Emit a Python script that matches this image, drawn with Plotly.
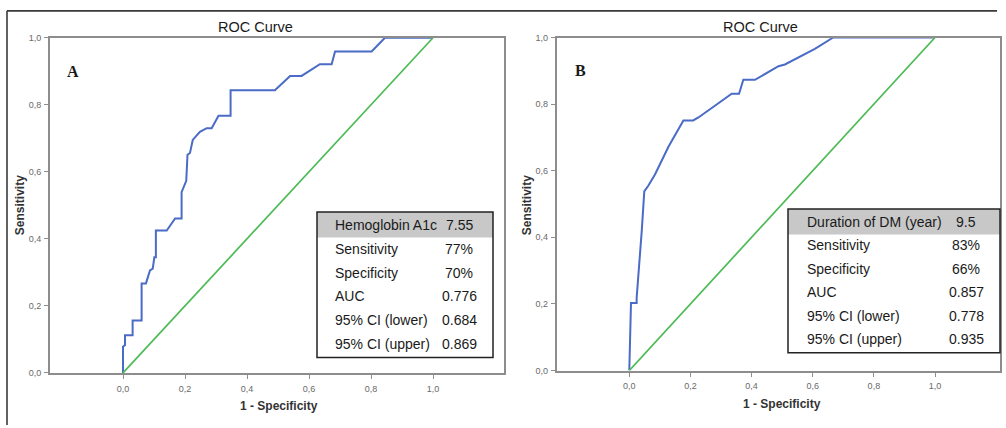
import plotly.graph_objects as go

W, H = 1006, 428

# ---------------- data ----------------
a_fpr = [0, 0, 0.0065, 0.0065, 0.031, 0.031, 0.060, 0.060, 0.074, 0.087, 0.096, 0.101, 0.106, 0.106,
         0.141, 0.168, 0.189, 0.189, 0.204, 0.208, 0.216, 0.225, 0.248, 0.270, 0.286, 0.308, 0.340,
         0.347, 0.347, 0.490, 0.539, 0.576, 0.635, 0.673, 0.684, 0.802, 0.845, 1.0]
a_tpr = [0, 0.078, 0.083, 0.112, 0.112, 0.156, 0.156, 0.267, 0.267, 0.306, 0.311, 0.345, 0.345, 0.425,
         0.425, 0.461, 0.461, 0.539, 0.573, 0.651, 0.656, 0.695, 0.719, 0.730, 0.730, 0.767, 0.767,
         0.767, 0.843, 0.843, 0.886, 0.886, 0.921, 0.921, 0.959, 0.959, 1.0, 1.0]

b_fpr = [0, 0.001, 0.0055, 0.024, 0.024, 0.041, 0.049, 0.062, 0.084, 0.128, 0.177, 0.209, 0.226,
         0.280, 0.335, 0.359, 0.373, 0.411, 0.488, 0.509, 0.607, 0.667, 1.0]
b_tpr = [0, 0.032, 0.203, 0.203, 0.218, 0.423, 0.538, 0.555, 0.589, 0.672, 0.751, 0.751, 0.760,
         0.795, 0.831, 0.831, 0.873, 0.873, 0.914, 0.919, 0.966, 1.0, 1.0]

ref_line = [0, 1]

tick_vals = [0, 0.2, 0.4, 0.6, 0.8, 1.0]
tick_text = ["0,0", "0,2", "0,4", "0,6", "0,8", "1,0"]

table_a_labels = ["Hemoglobin A1c", "Sensitivity", "Specificity", "AUC", "95% CI (lower)", "95% CI (upper)"]
table_a_values = ["7.55", "77%", "70%", "0.776", "0.684", "0.869"]
table_b_labels = ["Duration of DM (year)", "Sensitivity", "Specificity", "AUC", "95% CI (lower)", "95% CI (upper)"]
table_b_values = ["9.5", "83%", "66%", "0.857", "0.778", "0.935"]

panel_letters = ["A", "B"]
chart_title = "ROC Curve"
x_title = "1 - Specificity"
y_title = "Sensitivity"

# ---------------- styles / layout helpers ----------------
BLUE = "#4a6bc6"
GREEN = "#4cba55"
AXIS = "#8d8d8d"
TICKF = dict(family="Liberation Sans, Arial", size=9, color="#6a6a6a")
TABF = dict(family="Liberation Sans, Arial", size=14, color="#1a1a1a")


def fx(px):
    return px / W


def fy(py):
    return 1 - py / H


fig = go.Figure()
fig.add_trace(go.Scatter(x=a_fpr, y=a_tpr, mode="lines", line=dict(color=BLUE, width=2),
                         xaxis="x", yaxis="y", showlegend=False, hoverinfo="skip"))
fig.add_trace(go.Scatter(x=ref_line, y=ref_line, mode="lines", line=dict(color=GREEN, width=1.7),
                         xaxis="x", yaxis="y", showlegend=False, hoverinfo="skip"))
fig.add_trace(go.Scatter(x=b_fpr, y=b_tpr, mode="lines", line=dict(color=BLUE, width=2),
                         xaxis="x2", yaxis="y2", showlegend=False, hoverinfo="skip"))
fig.add_trace(go.Scatter(x=ref_line, y=ref_line, mode="lines", line=dict(color=GREEN, width=1.7),
                         xaxis="x2", yaxis="y2", showlegend=False, hoverinfo="skip"))

# panel geometry in pixels: (left, right, top, bottom, x-range)
panels = [
    dict(l=50, r=504, t=33.5, b=376.7, xr=[-0.2355, 1.229]),
    dict(l=556.7, r=1000, t=33.3, b=374.3, xr=[-0.2375, 1.2126]),
]

axcommon = dict(showgrid=False, zeroline=False, showline=True, linecolor=AXIS, linewidth=2,
                mirror=True, ticks="outside", ticklen=4, tickwidth=1, tickcolor=AXIS,
                tickvals=tick_vals, ticktext=tick_text, tickfont=TICKF, fixedrange=True)

layout_axes = {}
for i, p in enumerate(panels):
    sx = "" if i == 0 else "2"
    layout_axes["xaxis" + sx] = dict(axcommon, domain=[fx(p["l"]), fx(p["r"])], range=p["xr"],
                                     anchor="y" + sx, ticklabelstandoff=2)
    layout_axes["yaxis" + sx] = dict(axcommon, domain=[fy(p["b"]), fy(p["t"])], range=[0, 1],
                                     anchor="x" + sx, ticklabelstandoff=1)

fig.update_layout(width=W, height=H, margin=dict(l=0, r=0, t=0, b=0),
                  paper_bgcolor="white", plot_bgcolor="white", **layout_axes)

ann = []
shapes = []

tables = [
    dict(labels=table_a_labels, values=table_a_values, l=317, r=493, t=212, hb=238, b=361,
         tx=333, vx=459, rows=[225, 250, 274.2, 298.3, 322.5, 346.7]),
    dict(labels=table_b_labels, values=table_b_values, l=788, r=1000, t=209, hb=235, b=356,
         tx=805, vx=966, rows=[222.5, 246, 270, 294, 318, 342]),
]
# white fill under tables (so curves don't show through)
for tb in tables:
    shapes.append(dict(type="rect", xref="paper", yref="paper", x0=fx(tb["l"]), x1=fx(tb["r"]),
                       y0=fy(tb["b"]), y1=fy(tb["t"]), fillcolor="white", line=dict(width=0), layer="above"))

# outer frame lines
shapes.append(dict(type="line", xref="paper", yref="paper", x0=fx(7), x1=fx(997), y0=fy(6), y1=fy(6),
                   line=dict(color="#3a3a3a", width=1.6)))
shapes.append(dict(type="line", xref="paper", yref="paper", x0=fx(7), x1=fx(7), y0=fy(6), y1=fy(430),
                   line=dict(color="#3a3a3a", width=1.6)))

# titles, axis titles, letters
title_pos = [(256, 23), (760, 23)]
xt_pos = [(279, 411), (782, 409)]
yt_pos = [(20, 205), (527, 205)]
letter_pos = [(73, 68), (580, 67)]
for i in range(2):
    ann.append(dict(text=chart_title, x=fx(title_pos[i][0]), y=fy(title_pos[i][1]), xref="paper", yref="paper",
                    showarrow=False, xanchor="center", yanchor="middle",
                    font=dict(family="Liberation Sans, Arial", size=14.5, color="#1a1a1a"),))
    ann.append(dict(text="<b>" + x_title + "</b>", x=fx(xt_pos[i][0]), y=fy(xt_pos[i][1]), xref="paper",
                    yref="paper", showarrow=False, xanchor="center", yanchor="middle",
                    font=dict(family="Liberation Sans, Arial", size=12, color="#333")))
    ann.append(dict(text="<b>" + y_title + "</b>", x=fx(yt_pos[i][0]), y=fy(yt_pos[i][1]), xref="paper",
                    yref="paper", showarrow=False, xanchor="center", yanchor="middle", textangle=-90,
                    font=dict(family="Liberation Sans, Arial", size=12, color="#333")))
    ann.append(dict(text="<b>" + panel_letters[i] + "</b>", x=fx(letter_pos[i][0]), y=fy(letter_pos[i][1]),
                    xref="paper", yref="paper", showarrow=False, xanchor="center", yanchor="middle",
                    font=dict(family="Liberation Serif, Times New Roman", size=16, color="#1a1a1a")))

# tables
for tb in tables:
    shapes.append(dict(type="rect", xref="paper", yref="paper", x0=fx(tb["l"]), x1=fx(tb["r"]),
                       y0=fy(tb["hb"]), y1=fy(tb["t"]), fillcolor="#c8c8c8", line=dict(width=0), layer="above"))
    shapes.append(dict(type="rect", xref="paper", yref="paper", x0=fx(tb["l"]), x1=fx(tb["r"]),
                       y0=fy(tb["b"]), y1=fy(tb["t"]), fillcolor="rgba(0,0,0,0)",
                       line=dict(color="#222", width=1.5), layer="above"))
    for lab, val, ry in zip(tb["labels"], tb["values"], tb["rows"]):
        ann.append(dict(text=lab, x=fx(tb["tx"]), y=fy(ry), xref="paper", yref="paper", showarrow=False,
                        xanchor="left", yanchor="middle", font=TABF))
        ann.append(dict(text=val, x=fx(tb["vx"]), y=fy(ry), xref="paper", yref="paper", showarrow=False,
                        xanchor="center", yanchor="middle", font=TABF))

fig.update_layout(annotations=ann, shapes=shapes)
fig.write_html("out.html", config={"displayModeBar": False, "staticPlot": True},
               post_script="document.body.style.margin='0px';document.body.style.overflow='hidden';")
